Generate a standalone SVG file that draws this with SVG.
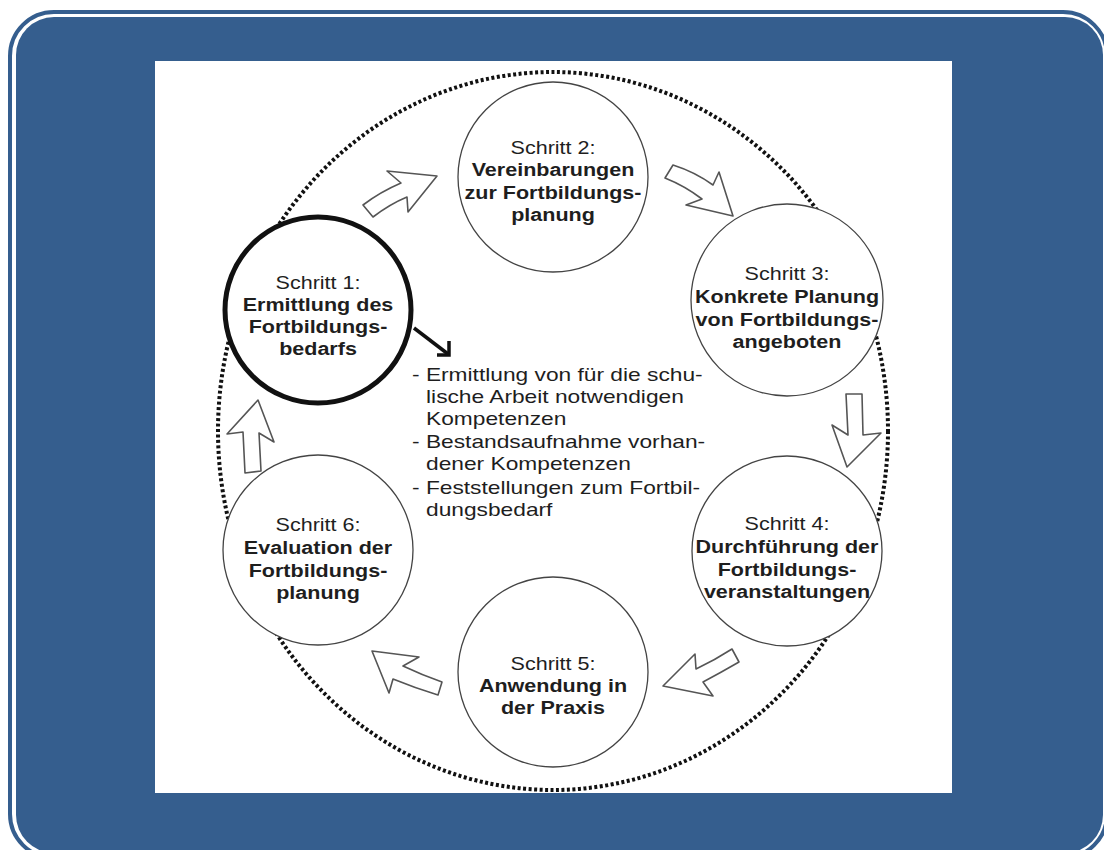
<svg xmlns="http://www.w3.org/2000/svg" width="1104" height="850" viewBox="0 0 1104 850">
<style>
.node{fill:#fff;stroke:#444;stroke-width:1.3}
.t{font-family:"Liberation Sans",Arial,sans-serif;font-size:17.5px;fill:#1e1e1e;text-anchor:middle}
.b{font-weight:bold}
.bl{font-family:"Liberation Sans",Arial,sans-serif;font-size:17.5px;fill:#1e1e1e}
.blk{fill:#fff;stroke:#555;stroke-width:1.6;stroke-linejoin:round}
</style>
<rect x="10" y="12" width="1097" height="846" rx="44" fill="none" stroke="#355E8E" stroke-width="4"/>
<rect x="16" y="17" width="1087" height="836" rx="38" fill="#355E8E"/>
<rect x="155" y="61" width="797" height="732" fill="#fff"/>
<ellipse cx="553" cy="431" rx="335" ry="359" fill="none" stroke="#111" stroke-width="4" stroke-dasharray="3 2.5"/>
<g id="connectors">
<path class="blk" d="M437,176 L387,171 L401,183 Q380,192 363,205 L373,217 Q390,204 407,197 L408,212 Z"/>
<path class="blk" d="M673,165 Q695,172 713,185 L719,172 L733,216 L686,205 L702,199 Q685,186 665,178 Z"/>
<path class="blk" d="M846,394 L862,394 L863,435 L881,433 L847,467 L832,425 L848,435 Z"/>
<path class="blk" d="M663,686 L695,654 L696,669 Q715,660 732,649 L739,662 Q720,673 703,682 L713,696 Z"/>
<path class="blk" d="M372,651 L419,657 L403,666 Q422,675 442,682 L438,695 Q415,688 393,679 L389,693 Z"/>
<path class="blk" d="M258,400 L274,442 L259,433 L261,471 L245,473 L243,432 L227,434 Z"/>
<line x1="414" y1="328" x2="448" y2="354" stroke="#111" stroke-width="3.5"/>
<polyline points="449,341 449,355 437,355" fill="none" stroke="#111" stroke-width="3.5" stroke-linejoin="miter"/>
</g>
<g id="step1">
<circle cx="318" cy="310" r="93" fill="#fff" stroke="#111" stroke-width="5"/>
<g transform="translate(318,0) scale(1.23,1)">
<text class="t" x="0" y="289">Schritt 1:</text>
<text class="t b" x="0" y="311">Ermittlung des</text>
<text class="t b" x="0" y="333">Fortbildungs-</text>
<text class="t b" x="0" y="355">bedarfs</text>
</g>
</g>
<g id="step2">
<circle class="node" cx="553" cy="177" r="95"/>
<g transform="translate(553,0) scale(1.23,1)">
<text class="t" x="0" y="154">Schritt 2:</text>
<text class="t b" x="0" y="176">Vereinbarungen</text>
<text class="t b" x="0" y="199">zur Fortbildungs-</text>
<text class="t b" x="0" y="221">planung</text>
</g>
</g>
<g id="step3">
<circle class="node" cx="787" cy="300" r="96"/>
<g transform="translate(787,0) scale(1.23,1)">
<text class="t" x="0" y="280">Schritt 3:</text>
<text class="t b" x="0" y="303">Konkrete Planung</text>
<text class="t b" x="0" y="326">von Fortbildungs-</text>
<text class="t b" x="0" y="348">angeboten</text>
</g>
</g>
<g id="step4">
<circle class="node" cx="787" cy="551" r="95"/>
<g transform="translate(787,0) scale(1.23,1)">
<text class="t" x="0" y="530">Schritt 4:</text>
<text class="t b" x="0" y="553">Durchführung der</text>
<text class="t b" x="0" y="576">Fortbildungs-</text>
<text class="t b" x="0" y="598">veranstaltungen</text>
</g>
</g>
<g id="step5">
<circle class="node" cx="553" cy="672" r="95"/>
<g transform="translate(553,0) scale(1.23,1)">
<text class="t" x="0" y="670">Schritt 5:</text>
<text class="t b" x="0" y="692">Anwendung in</text>
<text class="t b" x="0" y="714">der Praxis</text>
</g>
</g>
<g id="step6">
<circle class="node" cx="318" cy="550" r="95"/>
<g transform="translate(318,0) scale(1.23,1)">
<text class="t" x="0" y="531">Schritt 6:</text>
<text class="t b" x="0" y="554">Evaluation der</text>
<text class="t b" x="0" y="577">Fortbildungs-</text>
<text class="t b" x="0" y="599">planung</text>
</g>
</g>
<g id="notes" transform="translate(412,0) scale(1.3,1)">
<text class="bl" x="0" y="381">- Ermittlung von für die schu-</text>
<text class="bl" x="10.8" y="403">lische Arbeit notwendigen</text>
<text class="bl" x="10.8" y="425">Kompetenzen</text>
<text class="bl" x="0" y="448">- Bestandsaufnahme vorhan-</text>
<text class="bl" x="10.8" y="470">dener Kompetenzen</text>
<text class="bl" x="0" y="494">- Feststellungen zum Fortbil-</text>
<text class="bl" x="10.8" y="516">dungsbedarf</text>
</g>
</svg>
